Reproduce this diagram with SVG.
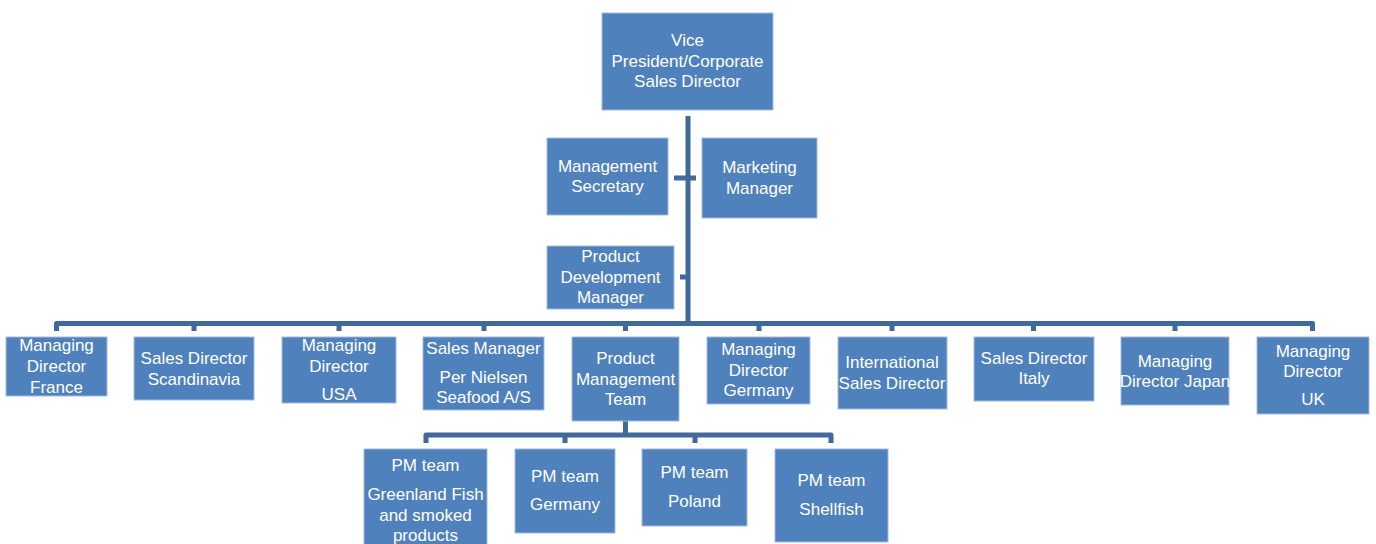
<svg xmlns="http://www.w3.org/2000/svg" width="1376" height="544" viewBox="0 0 1376 544">
<style>
.box{fill:#4f81bd;stroke:#a3bbdb;stroke-width:1}
.t{font-family:"Liberation Sans",Arial,sans-serif;font-size:17px;fill:#ffffff;text-anchor:middle}
.c{fill:none;stroke:#41699c;stroke-width:5;stroke-linejoin:round}
</style>
<rect width="1376" height="544" fill="#ffffff"/>
<g id="connectors">
<path class="c" d="M688,116 V323.5"/>
<path class="c" d="M674,178 H696"/>
<path class="c" d="M680,277 H688"/>
<path class="c" d="M56.5,331 V323.5 H1312.5 V331"/>
<path class="c" d="M194,323.5 V331 M339,323.5 V331 M484,323.5 V331 M625.5,323.5 V331 M759,323.5 V331 M892,323.5 V331 M1033.5,323.5 V331 M1175,323.5 V331"/>
<path class="c" d="M625.5,421 V435"/>
<path class="c" d="M426,443 V435 H831 V443"/>
<path class="c" d="M565,435 V443 M695,435 V443"/>
</g>
<g id="vp"><rect class="box" x="602" y="13" width="171" height="97"/>
<text class="t" x="687.5" y="46">Vice</text><text class="t" x="687.5" y="66.5">President/Corporate</text><text class="t" x="687.5" y="87">Sales Director</text></g>
<g id="msec"><rect class="box" x="547" y="138" width="121" height="77"/>
<text class="t" x="607.5" y="172">Management</text><text class="t" x="607.5" y="192">Secretary</text></g>
<g id="mkt"><rect class="box" x="702" y="138" width="115" height="80"/>
<text class="t" x="759.5" y="173">Marketing</text><text class="t" x="759.5" y="194">Manager</text></g>
<g id="pdm"><rect class="box" x="547" y="246" width="127" height="63"/>
<text class="t" x="610.5" y="261.5">Product</text><text class="t" x="610.5" y="282.5">Development</text><text class="t" x="610.5" y="303">Manager</text></g>
<g id="mdfr"><rect class="box" x="6" y="337" width="101" height="59"/>
<text class="t" x="56.5" y="350.5">Managing</text><text class="t" x="56.5" y="371.5">Director</text><text class="t" x="56.5" y="392.5">France</text></g>
<g id="sdsc"><rect class="box" x="134" y="337" width="120" height="63"/>
<text class="t" x="194" y="364">Sales Director</text><text class="t" x="194" y="385">Scandinavia</text></g>
<g id="mdusa"><rect class="box" x="282" y="337" width="114" height="66"/>
<text class="t" x="339" y="350.5">Managing</text><text class="t" x="339" y="371.5">Director</text><text class="t" x="339" y="400">USA</text></g>
<g id="smpn"><rect class="box" x="423" y="337" width="121" height="73"/>
<text class="t" x="483.5" y="354">Sales Manager</text><text class="t" x="483.5" y="382.5">Per Nielsen</text><text class="t" x="483.5" y="403">Seafood A/S</text></g>
<g id="pmt"><rect class="box" x="572" y="337" width="107" height="84"/>
<text class="t" x="625.5" y="364">Product</text><text class="t" x="625.5" y="384.5">Management</text><text class="t" x="625.5" y="404.5">Team</text></g>
<g id="mdde"><rect class="box" x="707" y="337" width="103" height="67"/>
<text class="t" x="758.5" y="355">Managing</text><text class="t" x="758.5" y="376">Director</text><text class="t" x="758.5" y="396">Germany</text></g>
<g id="isd"><rect class="box" x="838" y="337" width="109" height="72"/>
<text class="t" x="892" y="368">International</text><text class="t" x="892" y="388.5">Sales Director</text></g>
<g id="sdit"><rect class="box" x="974" y="337" width="120" height="64"/>
<text class="t" x="1034" y="364">Sales Director</text><text class="t" x="1034" y="384">Italy</text></g>
<g id="mdjp"><rect class="box" x="1121" y="337" width="108" height="68"/>
<text class="t" x="1175" y="366.5">Managing</text><text class="t" x="1175" y="386.5">Director Japan</text></g>
<g id="mduk"><rect class="box" x="1257" y="337" width="112" height="77"/>
<text class="t" x="1313" y="356.5">Managing</text><text class="t" x="1313" y="376.5">Director</text><text class="t" x="1313" y="405">UK</text></g>
<g id="pmgl"><rect class="box" x="364" y="449" width="123" height="100"/>
<text class="t" x="425.5" y="470.5">PM team</text><text class="t" x="425.5" y="500">Greenland Fish</text><text class="t" x="425.5" y="520.5">and smoked</text><text class="t" x="425.5" y="540.5">products</text></g>
<g id="pmde"><rect class="box" x="515" y="449" width="100" height="84"/>
<text class="t" x="565" y="482">PM team</text><text class="t" x="565" y="510">Germany</text></g>
<g id="pmpl"><rect class="box" x="642" y="449" width="105" height="77"/>
<text class="t" x="694.5" y="478">PM team</text><text class="t" x="694.5" y="507">Poland</text></g>
<g id="pmsh"><rect class="box" x="775" y="449" width="113" height="93"/>
<text class="t" x="831.5" y="486">PM team</text><text class="t" x="831.5" y="515">Shellfish</text></g>
</svg>
